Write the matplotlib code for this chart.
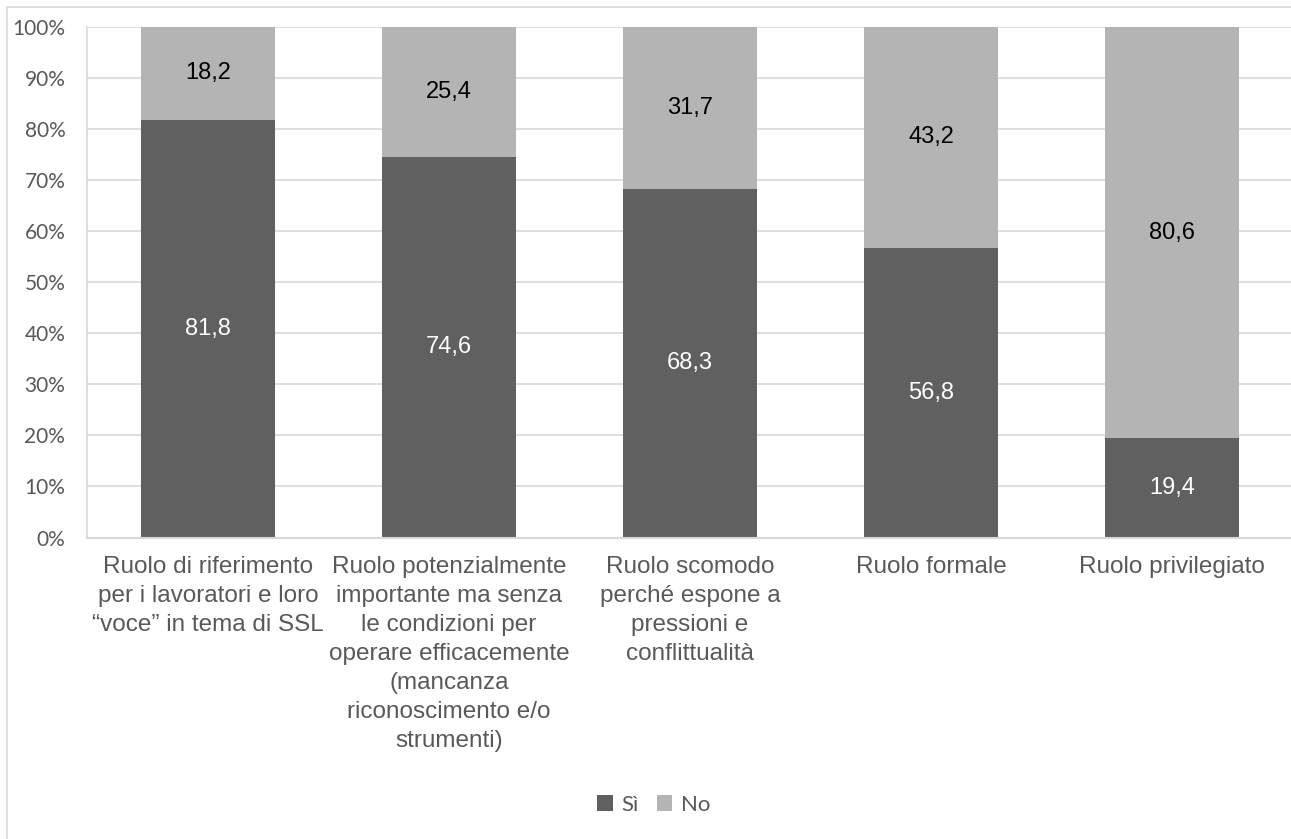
import matplotlib.pyplot as plt
import numpy as np
from matplotlib.patches import Rectangle

# === DATA ===
categories = [
    "Ruolo di riferimento\nper i lavoratori e loro\n\u201cvoce\u201d in tema di SSL",
    "Ruolo potenzialmente\nimportante ma senza\nle condizioni per\noperare efficacemente\n(mancanza\nriconoscimento e/o\nstrumenti)",
    "Ruolo scomodo\nperch\u00e9 espone a\npressioni e\nconflittualit\u00e0",
    "Ruolo formale",
    "Ruolo privilegiato",
]
si_values = [81.8, 74.6, 68.3, 56.8, 19.4]
no_values = [18.2, 25.4, 31.7, 43.2, 80.6]
series_names = ["S\u00ec", "No"]

# === STYLE ===
W, H = 1291, 839
COLOR_SI = "#606060"
COLOR_NO = "#b4b4b4"
GRID = "#d9d9d9"
TEXT = "#595959"
TICK_FONT = "Lato"
LABEL_FONT = "Liberation Sans"

fig = plt.figure(figsize=(W / 100, H / 100), dpi=100)

# chart area border
fig.patches.append(Rectangle((7 / W, -0.02), 1.02, 1 - 7 / H + 0.02,
                             transform=fig.transFigure, fill=False,
                             edgecolor=GRID, linewidth=1.2))

ax = fig.add_axes([87.5 / W, 1 - 537.5 / H, 1205 / W, 510.5 / H])

x = np.arange(len(categories))
width = 0.556
si = np.array(si_values)
no = np.array(no_values)

b1 = ax.bar(x, si, width, color=COLOR_SI, label=series_names[0], zorder=2)
b2 = ax.bar(x, no, width, bottom=si, color=COLOR_NO, label=series_names[1], zorder=2)

# value labels in the middle of each segment
for xi, s, n in zip(x, si, no):
    ax.text(xi, s / 2, f"{s:.1f}".replace(".", ","), ha="center", va="center",
            color="white", fontsize=17, family=LABEL_FONT, zorder=3)
    ax.text(xi, s + n / 2, f"{n:.1f}".replace(".", ","), ha="center", va="center",
            color="black", fontsize=17, family=LABEL_FONT, zorder=3)

ax.set_xlim(-0.5, len(categories) - 0.5)
ax.set_ylim(0, 100)
ax.set_yticks(np.arange(0, 101, 10))
ax.set_yticklabels([f"{v}%" for v in range(0, 101, 10)], family=TICK_FONT,
                   fontsize=15, color=TEXT)
ax.set_xticks(x)
ax.set_xticklabels(categories, family=LABEL_FONT, fontsize=17.5, color=TEXT,
                   linespacing=1.42, va="top")
ax.tick_params(axis="both", length=0)
ax.tick_params(axis="y", pad=16)
ax.tick_params(axis="x", pad=13)

ax.grid(axis="y", color=GRID, linewidth=1.2, zorder=0)
ax.set_axisbelow(True)
for side in ["top", "right"]:
    ax.spines[side].set_visible(False)
ax.spines["left"].set_color(GRID)
ax.spines["bottom"].set_color(GRID)
ax.spines["left"].set_linewidth(1.2)
ax.spines["bottom"].set_linewidth(1.5)

leg = fig.legend(handles=[b1, b2], labels=series_names, loc="center",
                 bbox_to_anchor=(654 / W, 1 - 805 / H), ncol=2, frameon=False,
                 prop={"family": TICK_FONT, "size": 16}, handlelength=0.7,
                 handleheight=0.7, handletextpad=0.4, columnspacing=0.8)
for t in leg.get_texts():
    t.set_color(TEXT)

fig.savefig("out.png", dpi=100)
